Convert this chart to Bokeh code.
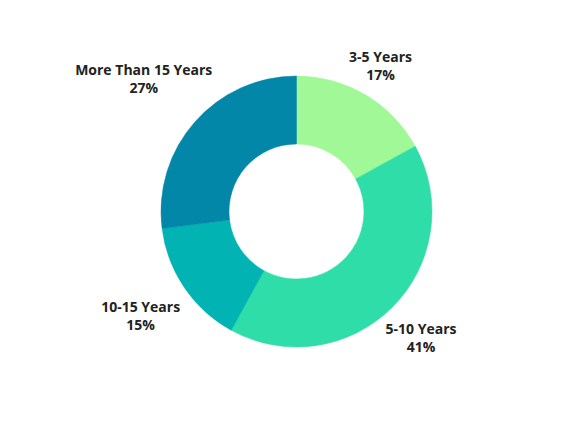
import math
from bokeh.plotting import figure
from bokeh.models import Range1d, ColumnDataSource
from bokeh.core.properties import value
from bokeh.embed import file_html
from bokeh.resources import INLINE

# ---- data ----
categories = ["3-5 Years", "5-10 Years", "10-15 Years", "More Than 15 Years"]
percents = [17, 41, 15, 27]
colors = ["#a0f996", "#2fdda9", "#02b3b4", "#0387a9"]

# ---- style / layout ----
R_OUT = 135.5
R_IN = 67.5
label_radius = [169, 179, 186, 201]
FONT = "Open Sans"

W, H = 561, 417
cx_px, cy_px = 296, 211  # donut centre within the canvas

total = sum(percents)
starts, ends, mids = [], [], []
ang = math.pi / 2
for v in percents:
    sweep = 2 * math.pi * v / total
    starts.append(ang)
    ends.append(ang - sweep)
    mids.append(ang - sweep / 2)
    ang -= sweep

src = ColumnDataSource(dict(start=starts, end=ends, color=colors,
                            x=[0] * len(percents), y=[0] * len(percents)))

p = figure(width=W, height=H, output_backend="svg", toolbar_location=None,
           x_range=Range1d(-cx_px, W - cx_px), y_range=Range1d(-(H - cy_px), cy_px),
           min_border=0, background_fill_color="white", border_fill_color="white")
p.axis.visible = False
p.grid.visible = False
p.outline_line_color = None

p.annular_wedge(x="x", y="y", inner_radius=R_IN, outer_radius=R_OUT,
                start_angle="start", end_angle="end", direction="clock",
                fill_color="color", line_color="color", line_width=0.5, source=src)

lx = [r * math.cos(m) - 2 for r, m in zip(label_radius, mids)]
ly = [r * math.sin(m) for r, m in zip(label_radius, mids)]
pct_txt = [f"{v}%" for v in percents]

p.text(x=lx, y=[y + 9.5 for y in ly], text=categories, text_align="center",
       text_baseline="alphabetic", text_font=value(FONT), text_font_style="bold",
       text_font_size="14px", text_color="#222222")
p.text(x=lx, y=[y - 8.8 for y in ly], text=pct_txt, text_align="center",
       text_baseline="alphabetic", text_font=value(FONT), text_font_style="bold",
       text_font_size="14px", text_color="#222222")

open("out.html", "w").write(file_html(p, INLINE))
